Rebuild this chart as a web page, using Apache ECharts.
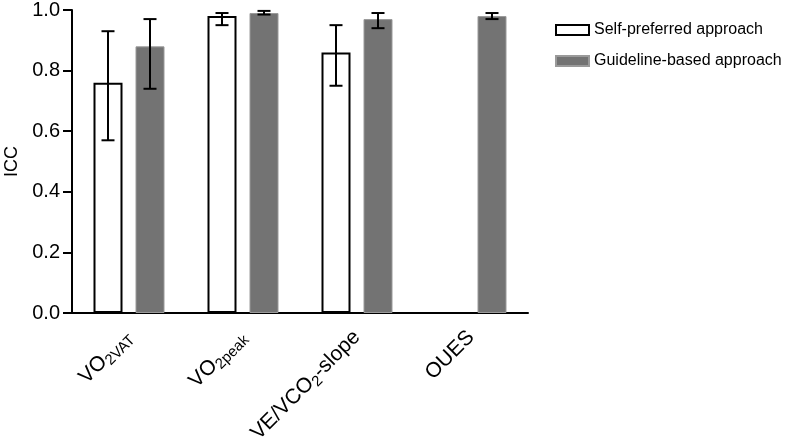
<!DOCTYPE html>
<html>
<head>
<meta charset="utf-8">
<script src="https://cdn.jsdelivr.net/npm/echarts@6/dist/echarts.min.js"></script>
<style>
  html, body { margin: 0; padding: 0; background: #fff; }
  #chart { width: 786px; height: 444px; }
</style>
</head>
<body>
<div id="chart"></div>
<script>
// 类别
var categories = ['VO2VAT', 'VO2peak', 'VE/VCO2-slope', 'OUES'];
// 自选方法 ICC (OUES 无数据)
var selfValues = [0.76, 0.98, 0.86, '-'];
var selfLow = [0.57, 0.95, 0.75, '-'];
var selfHigh = [0.93, 0.99, 0.95, '-'];
// 指南方法 ICC
var guideValues = [0.88, 0.99, 0.97, 0.98];
var guideLow = [0.74, 0.985, 0.94, 0.97];
var guideHigh = [0.97, 0.997, 0.99, 0.99];
// y轴刻度
var yTicks = [0, 0.2, 0.4, 0.6, 0.8, 1.0];

var FONT = "'Liberation Sans', Arial, sans-serif";
var BAR_W = 29;
var BAR_GAP = 13;

// x轴标签 (下标用 rich text)
var labelMap = {
  'VO2VAT': '{n|VO}{s|2VAT}',
  'VO2peak': '{n|VO}{s|2peak}',
  'VE/VCO2-slope': '{n|VE/VCO}{s|2}{n|-slope}',
  'OUES': '{n|OUES}'
};

function errData(low, high) {
  var out = [];
  for (var i = 0; i < categories.length; i++) {
    if (low[i] === '-') continue;
    out.push([i, low[i], high[i]]);
  }
  return out;
}

// 误差线
function makeErrorRender(side) {
  return function (params, api) {
    var idx = api.value(0);
    var lo = api.coord([idx, api.value(1)]);
    var hi = api.coord([idx, api.value(2)]);
    var x = lo[0] + side * (BAR_W + BAR_GAP) / 2;
    var cap = 6.5;
    var st = { stroke: '#000', lineWidth: 2 };
    return {
      type: 'group',
      children: [
        { type: 'line', shape: { x1: x, y1: lo[1], x2: x, y2: hi[1] }, style: st },
        { type: 'line', shape: { x1: x - cap, y1: lo[1], x2: x + cap, y2: lo[1] }, style: st },
        { type: 'line', shape: { x1: x - cap, y1: hi[1], x2: x + cap, y2: hi[1] }, style: st }
      ]
    };
  };
}

var chart = echarts.init(document.getElementById('chart'));
var option = {
  animation: false,
  backgroundColor: '#fff',
  textStyle: { fontFamily: FONT },
  grid: { left: 72, right: 258, top: 10, bottom: 131, containLabel: false, outerBoundsMode: 'none' },
  legend: {
    data: ['Self-preferred approach', 'Guideline-based approach'],
    orient: 'vertical',
    left: 550,
    top: 17,
    itemWidth: 33,
    itemHeight: 10,
    itemGap: 15,
    icon: 'rect',
    textStyle: { fontFamily: FONT, fontSize: 16, color: '#000', padding: 0 }
  },
  xAxis: {
    type: 'category',
    data: categories,
    axisLine: { lineStyle: { color: '#000', width: 2 } },
    axisTick: { alignWithLabel: true, length: 10, lineStyle: { color: '#000', width: 2 } },
    axisLabel: {
      rotate: 45,
      margin: 21,
      interval: 0,
      color: '#000',
      formatter: function (v) { return labelMap[v]; },
      rich: {
        n: { fontFamily: FONT, fontSize: 21, color: '#000', lineHeight: 24 },
        s: { fontFamily: FONT, fontSize: 15, color: '#000', lineHeight: 24, verticalAlign: 'bottom', padding: [0, 0, -1, 0] }
      }
    }
  },
  yAxis: {
    type: 'value',
    min: 0,
    max: 1,
    interval: 0.2,
    name: 'ICC',
    nameLocation: 'middle',
    nameGap: 49,
    nameTextStyle: { fontFamily: FONT, fontSize: 18, color: '#000' },
    splitLine: { show: false },
    axisLine: { show: true, lineStyle: { color: '#000', width: 2 } },
    axisTick: { show: true, length: 9, lineStyle: { color: '#000', width: 2 } },
    axisLabel: {
      margin: 12,
      fontSize: 20,
      color: '#000',
      fontFamily: FONT,
      formatter: function (v) { return v.toFixed(1); }
    }
  },
  series: [
    {
      name: 'Self-preferred approach',
      type: 'bar',
      data: selfValues,
      barWidth: BAR_W,
      barGap: (BAR_GAP / BAR_W * 100) + '%',
      itemStyle: { color: '#fff', borderColor: '#000', borderWidth: 2 }
    },
    {
      name: 'Guideline-based approach',
      type: 'bar',
      data: guideValues,
      barWidth: BAR_W,
      itemStyle: { color: '#737373', borderColor: '#9a9a9a', borderWidth: 1 }
    },
    {
      type: 'custom',
      renderItem: makeErrorRender(-1),
      data: errData(selfLow, selfHigh),
      z: 5
    },
    {
      type: 'custom',
      renderItem: makeErrorRender(1),
      data: errData(guideLow, guideHigh),
      z: 5
    }
  ]
};
chart.setOption(option);

window.addEventListener('resize', function () {
  chart.resize();
});
</script>
</body>
</html>
